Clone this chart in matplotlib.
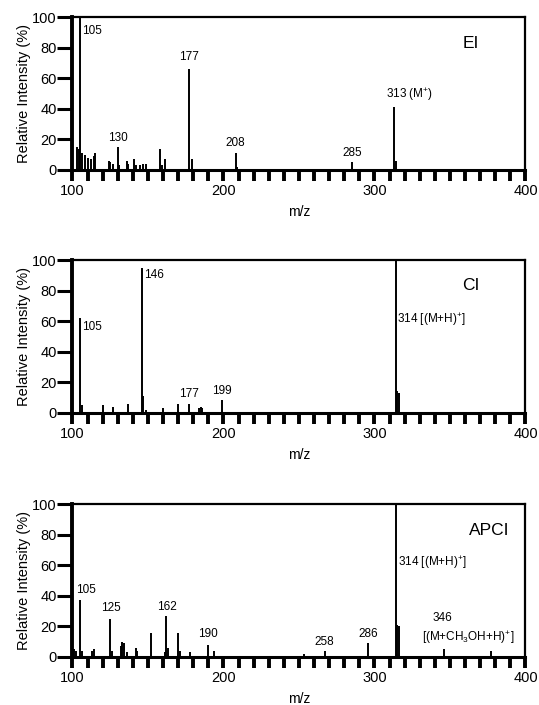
import matplotlib.pyplot as plt
from matplotlib.ticker import MultipleLocator

plt.rcParams['font.family'] = ['Liberation Sans', 'DejaVu Sans']
plt.rcParams['mathtext.fontset'] = 'custom'
plt.rcParams['mathtext.rm'] = 'Liberation Sans'

# EI spectrum
mz_ei = [103, 104, 105, 106, 108, 110, 112, 114, 115, 124, 125, 127, 130, 131,
         136, 137, 141, 142, 145, 147, 149, 158, 159, 161, 177, 179, 208, 209,
         285, 313, 314]
int_ei = [15, 14, 100, 11, 10, 8, 7, 9, 11, 6, 5, 4, 15, 3,
          6, 4, 7, 3, 3, 4, 4, 14, 3, 7, 66, 7, 11, 2,
          5, 41, 6]

# CI spectrum
mz_ci = [105, 106, 120, 127, 137, 146, 147, 149, 160, 170, 177, 184, 185, 186,
         199, 314, 315, 316]
int_ci = [62, 5, 5, 4, 6, 95, 11, 2, 3, 6, 6, 3, 4, 3,
          8, 100, 14, 13]

# APCI spectrum
mz_apci = [100, 101, 102, 105, 106, 113, 114, 125, 126, 132, 133, 134, 136, 142,
           143, 152, 161, 162, 163, 170, 171, 178, 190, 194, 253, 267, 296, 314,
           315, 316, 346, 377]
int_apci = [6, 5, 4, 37, 4, 4, 5, 25, 4, 7, 10, 9, 3, 6,
            4, 16, 3, 27, 6, 16, 4, 3, 8, 4, 2, 4, 9, 100,
            21, 20, 5, 4]

# peak labels: (text, x, y, ha)
labels_ei = [("105", 106.5, 91, "left"), ("130", 130, 17, "center"),
             ("177", 177, 70, "center"), ("208", 208, 14, "center"),
             ("285", 285, 7, "center"), ("313 (M$^{+}$)", 323, 44, "center")]
labels_ci = [("146", 147.2, 90, "left"), ("105", 106.5, 56, "left"),
             ("177", 177, 8, "center"), ("199", 199, 10, "center"),
             ("314 [(M+H)$^{+}$]", 315, 61, "left")]
labels_apci = [("105", 109, 40, "center"), ("125", 125.5, 28, "center"),
               ("162", 162.5, 29, "center"), ("190", 190, 11, "center"),
               ("258", 267, 6, "center"), ("286", 296, 11, "center"),
               ("314 [(M+H)$^{+}$]", 315.5, 62, "left"), ("346", 345, 21.5, "center"),
               ("[(M+CH$_{3}$OH+H)$^{+}$]", 362, 7, "center")]

# name, data, labels, axes bottom, name x position
panels = [
    ("EI", mz_ei, int_ei, labels_ei, 0.7589, 364),
    ("CI", mz_ci, int_ci, labels_ci, 0.4146, 364),
    ("APCI", mz_apci, int_apci, labels_apci, 0.0681, 376),
]


def draw_spectrum(ax, name, mz, inten, labels, name_x):
    ax.vlines(mz, 0, inten, color="black", lw=1.4)
    ax.set_xlim(100, 400)
    ax.set_ylim(0, 100)
    ax.xaxis.set_major_locator(MultipleLocator(100))
    ax.xaxis.set_minor_locator(MultipleLocator(10))
    ax.yaxis.set_major_locator(MultipleLocator(20))
    ax.tick_params(axis="x", which="both", direction="out", length=8, width=2.8,
                   labelsize=10.5, pad=2)
    ax.tick_params(axis="y", direction="out", length=11, width=2.2,
                   labelsize=10.5, pad=0.5)
    for side in ["top", "right"]:
        ax.spines[side].set_linewidth(1.6)
    ax.spines["left"].set_linewidth(2.8)
    ax.spines["bottom"].set_linewidth(2.2)
    ax.set_xlabel("m/z", fontsize=10, labelpad=5)
    ax.set_ylabel("Relative Intensity (%)", fontsize=10.5, labelpad=1)
    for text, x, y, ha in labels:
        ax.text(x, y, text, ha=ha, va="bottom" if ha == "center" else "center",
                fontsize=8.5)
    ax.text(name_x, 83, name, ha="center", va="center", fontsize=12.5)


fig = plt.figure(figsize=(5.39, 7.05), dpi=100)
for name, mz, inten, labels, bottom, name_x in panels:
    ax = fig.add_axes([0.1345, bottom, 0.8404, 0.2166])
    draw_spectrum(ax, name, mz, inten, labels, name_x)

fig.savefig("out.png", dpi=100)
